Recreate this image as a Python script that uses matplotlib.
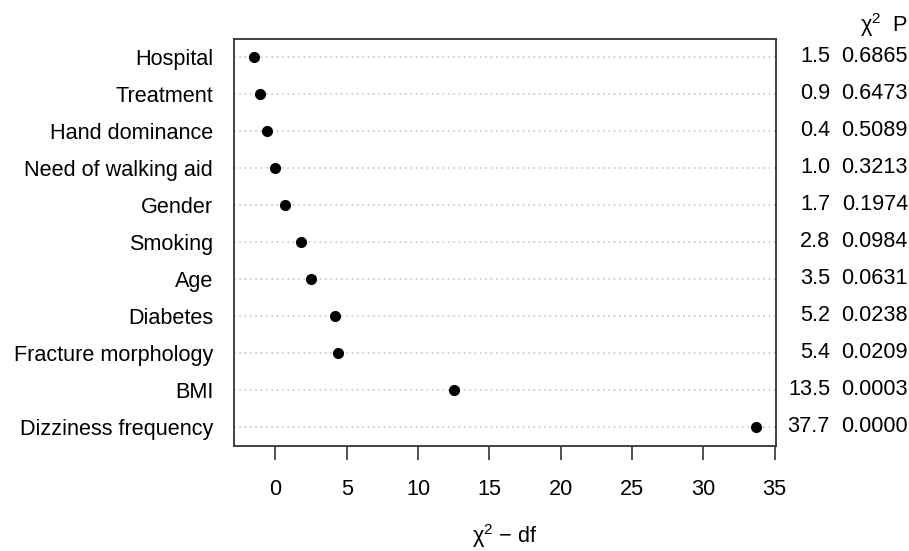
import matplotlib
matplotlib.use("Agg")
import matplotlib.pyplot as plt
import matplotlib.transforms as mtransforms

factors = ["Hospital", "Treatment", "Hand dominance", "Need of walking aid", "Gender",
           "Smoking", "Age", "Diabetes", "Fracture morphology", "BMI", "Dizziness frequency"]
chi2 = [1.5, 0.9, 0.4, 1.0, 1.7, 2.8, 3.5, 5.2, 5.4, 13.5, 37.7]
chi2_minus_df = [-1.47, -1.05, -0.56, 0.0, 0.7, 1.8, 2.5, 4.2, 4.4, 12.5, 33.7]
pvals = ["0.6865", "0.6473", "0.5089", "0.3213", "0.1974", "0.0984", "0.0631",
         "0.0238", "0.0209", "0.0003", "0.0000"]
xticks = [0, 5, 10, 15, 20, 25, 30, 35]

plt.rcParams['font.family'] = ['Liberation Sans', 'DejaVu Sans']
plt.rcParams['mathtext.fontset'] = 'custom'
plt.rcParams['mathtext.rm'] = 'Liberation Sans'
plt.rcParams['mathtext.it'] = 'Liberation Sans'
FS = 15.6

fig = plt.figure(figsize=(9.09, 5.51), dpi=100)
ax = fig.add_axes([234/909, 1 - 446/551, 542/909, 407/551])

n = len(factors)
ypos = [n - i for i in range(n)]

for y in ypos:
    ax.axhline(y, color="#BEBEBE", linestyle=(0, (1, 2.5)), linewidth=1.1, zorder=1)
ax.plot(chi2_minus_df, ypos, "o", color="black", markersize=7, zorder=3)

ax.set_xlim(-2.9, 35.1)
ax.set_ylim(0.48, 11.48)
ax.set_yticks(ypos)
ax.set_yticklabels(factors, fontsize=FS)
ax.tick_params(axis="y", length=0, pad=15)
ax.set_xticks(xticks)
ax.set_xticklabels([str(t) for t in xticks], fontsize=FS)
ax.tick_params(axis="x", length=10, width=1.2, pad=14, color="#333333")
for s in ax.spines.values():
    s.set_linewidth(1.3)
    s.set_color("#333333")

ax.set_xlabel("χ$^2$ − df", fontsize=FS, labelpad=16)

trans = mtransforms.blended_transform_factory(fig.transFigure, ax.transData)
for y, c, p in zip(ypos, chi2, pvals):
    ax.text(830/909, y, f"{c:.1f}", transform=trans, ha="right", va="center", fontsize=FS)
    ax.text(908/909, y, p, transform=trans, ha="right", va="center", fontsize=FS)
ax.text(908/909, 1 - 25/551, "χ$^2$  P", transform=fig.transFigure, ha="right",
        va="center", fontsize=FS)

fig.savefig("out.png", dpi=100)
